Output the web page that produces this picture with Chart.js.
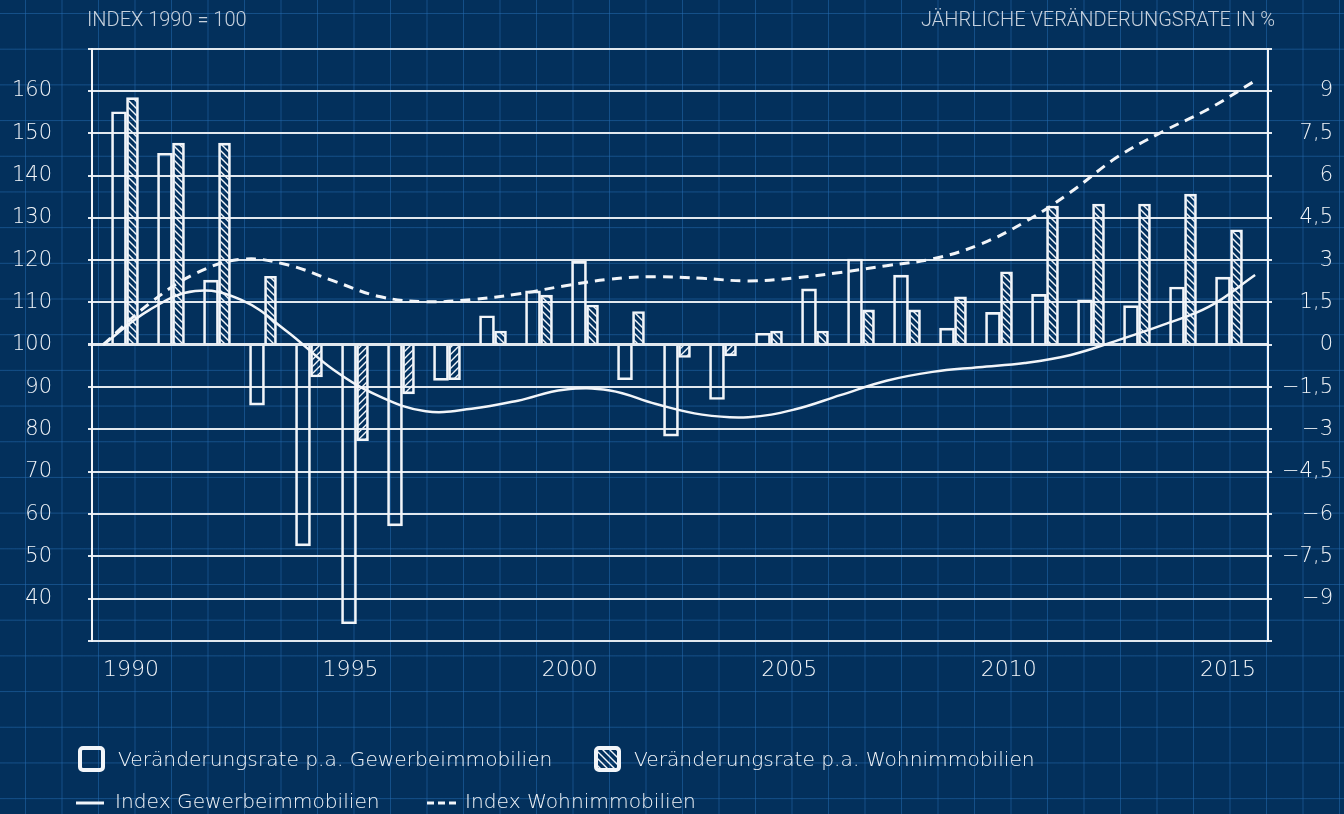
<!DOCTYPE html>
<html><head><meta charset="utf-8">
<script src="https://cdn.jsdelivr.net/npm/chart.js@4.4.1/dist/chart.umd.min.js"></script>
<style>
html,body{margin:0;padding:0;width:1344px;height:814px;overflow:hidden;}
body{background-color:#03305c;
background-image:linear-gradient(to right, rgba(38,110,180,0.5) 1px, transparent 1px),linear-gradient(to bottom, rgba(38,110,180,0.5) 1px, transparent 1px);
background-size:36.5px 35.7px;background-position:25px 13px;}
canvas{display:block;}
</style></head><body>
<canvas id="c" width="1344" height="814"></canvas>
<script>
// ---- data ----
const lineYears = [1990,1991,1992,1993,1994,1995,1996,1997,1998,1999,2000,2001,2002,2003,2004,2005,2006,2007,2008,2009,2010,2011,2012,2013,2014,2015];
const gewerbeIndex = [100,108.2,112.7,110.6,103.1,94.1,87.8,84.3,84.9,86.8,89.4,89.2,86.0,83.5,82.9,84.7,88.1,91.5,93.6,94.7,95.7,97.6,101.0,104.7,109.0,116.5];
const wohnIndex = [100,109.7,116.8,120.2,118.9,115.1,111.4,110.2,110.7,112.0,113.9,115.5,116.1,115.7,115.1,115.8,117.1,118.7,120.3,123.6,129.0,136.1,144.3,150.4,155.8,162.4];
const barYears = [1991,1992,1993,1994,1995,1996,1997,1998,1999,2000,2001,2002,2003,2004,2005,2006,2007,2008,2009,2010,2011,2012,2013,2014,2015];
const gewerbeRate = [8.26,6.79,2.29,-2.14,-7.13,-9.89,-6.42,-1.26,1.03,1.91,2.96,-1.24,-3.24,-1.94,0.41,1.98,3.04,2.47,0.59,1.15,1.79,1.59,1.39,2.05,2.40];
const wohnRate = [8.76,7.15,7.15,2.43,-1.14,-3.4,-1.74,-1.24,0.49,1.76,1.41,1.18,-0.45,-0.39,0.49,0.49,1.24,1.24,1.70,2.59,4.92,4.99,4.99,5.34,4.08];
const leftTickLabels = [40,50,60,70,80,90,100,110,120,130,140,150,160];
const rightTickLabels = [-9,-7.5,-6,-4.5,-3,-1.5,0,1.5,3,4.5,6,7.5,9];
const xTickLabels = [1990,1995,2000,2005,2010,2015];
const titleLeft = 'INDEX 1990 = 100';
const titleRight = 'JÄHRLICHE VERÄNDERUNGSRATE IN %';
const seriesNames = ['Veränderungsrate p.a. Gewerbeimmobilien','Veränderungsrate p.a. Wohnimmobilien','Index Gewerbeimmobilien','Index Wohnimmobilien'];

// ---- style ----
const WHITE = '#f2f5f9';
const GRID = '#e1e8ef';
const HAND = '"DejaVu Sans", sans-serif';
const canvas = document.getElementById('c');
const mainCtx = canvas.getContext('2d');

function hatch(dir){
  const s = 7, c = document.createElement('canvas');
  c.width = s; c.height = s;
  const g = c.getContext('2d');
  g.strokeStyle = WHITE; g.lineWidth = 1.4; g.beginPath();
  if (dir > 0) {
    g.moveTo(-1,-1); g.lineTo(s+1,s+1);
    g.moveTo(-1,s-1); g.lineTo(1,s+1);
    g.moveTo(s-1,-1); g.lineTo(s+1,1);
  } else {
    g.moveTo(-1,s+1); g.lineTo(s+1,-1);
    g.moveTo(-1,1); g.lineTo(1,-1);
    g.moveTo(s-1,s+1); g.lineTo(s+1,s-1);
  }
  g.stroke();
  return mainCtx.createPattern(c,'repeat');
}
const hatchPos = hatch(1), hatchNeg = hatch(-1);

function fmtRate(v){
  const r = Math.round(v*10)/10;
  if (!rightTickLabels.some(t => Math.abs(t-r) < 1e-6)) return '';
  return (r < 0 ? '\u2212' : '') + String(Math.abs(r)).replace('.',',');
}

const overlay = {
  id:'overlay',
  afterDraw(chart){
    const ctx = chart.ctx;
    ctx.save();
    // titles
    ctx.fillStyle = '#c7d1dd';
    ctx.font = '300 20px Roboto, sans-serif';
    ctx.textBaseline = 'middle';
    ctx.textAlign = 'left';
    ctx.fillText(titleLeft, 87, 21);
    ctx.textAlign = 'right';
    ctx.fillText(titleRight, 1275, 21);
    // legend
    ctx.textAlign = 'left';
    ctx.fillStyle = WHITE;
    ctx.strokeStyle = WHITE;
    ctx.font = '200 20.2px ' + HAND;
    // box 1
    ctx.lineWidth = 4;
    ctx.beginPath(); ctx.roundRect(80, 748, 23, 22, 3); ctx.stroke();
    ctx.fillText(seriesNames[0], 118, 761);
    // box 2
    ctx.fillStyle = hatchPos;
    ctx.fillRect(596, 748, 23, 22);
    ctx.beginPath(); ctx.roundRect(596, 748, 23, 22, 3); ctx.stroke();
    ctx.fillStyle = WHITE;
    ctx.fillText(seriesNames[1], 634, 761);
    // line icons
    ctx.lineWidth = 3;
    ctx.beginPath(); ctx.moveTo(76, 803); ctx.lineTo(104, 803); ctx.stroke();
    ctx.fillText(seriesNames[2], 115, 803);
    ctx.setLineDash([7,4]);
    ctx.beginPath(); ctx.moveTo(427, 803); ctx.lineTo(458, 803); ctx.stroke();
    ctx.setLineDash([]);
    ctx.fillText(seriesNames[3], 465, 803);
    ctx.restore();
  }
};

new Chart(canvas, {
  type: 'bar',
  data: {
    datasets: [
      {
        type:'line', label: seriesNames[2],
        data: lineYears.map((x,i)=>({x, y: gewerbeIndex[i]})),
        xAxisID:'xl', yAxisID:'y',
        borderColor: WHITE, borderWidth: 2.5, pointRadius: 0, tension: 0.4, fill:false, order: 0
      },
      {
        type:'line', label: seriesNames[3],
        data: lineYears.map((x,i)=>({x, y: wohnIndex[i]})),
        xAxisID:'xl', yAxisID:'y',
        borderColor: WHITE, borderWidth: 3, borderDash:[10,7], pointRadius: 0, tension: 0.4, fill:false, order: 0
      },
      {
        type:'bar', label: seriesNames[0],
        data: barYears.map((x,i)=>({x, y: gewerbeRate[i]})),
        xAxisID:'xb', yAxisID:'y1',
        backgroundColor:'rgba(0,0,0,0)', borderColor: WHITE, borderWidth: 2,
        barThickness: 15, order: 1
      },
      {
        type:'bar', label: seriesNames[1],
        data: barYears.map((x,i)=>({x, y: wohnRate[i]})),
        xAxisID:'xb', yAxisID:'y1',
        backgroundColor: c => (c.parsed && c.parsed.y < 0) ? hatchNeg : hatchPos,
        borderColor: WHITE, borderWidth: 2,
        barThickness: 12, order: 1
      }
    ]
  },
  options: {
    responsive:false, animation:false,
    layout:{padding:{top:43,right:11,bottom:0,left:0}},
    plugins:{legend:{display:false}, tooltip:{enabled:false}},
    scales:{
      x:{type:'linear', position:'bottom', min:1989.11, max:2015.91, offset:false,
        grid:{display:false, offset:false}, border:{display:false},
        ticks:{stepSize:5, includeBounds:false, autoSkip:false, maxRotation:0, padding:8,
          color:WHITE, font:{family:HAND, size:22, weight:'200'},
          callback: v => xTickLabels.includes(v) ? String(v) : ''},
        afterFit: s => { s.height = 173; }
      },
      xb:{type:'linear', display:false, offset:false, grid:{offset:false}, min:1990.25, max:2015.815,
        ticks:{stepSize:1, includeBounds:false, maxTicksLimit:100}},
      xl:{type:'linear', display:false, offset:false, grid:{offset:false}, min:1989.76, max:2015.28,
        ticks:{stepSize:1, includeBounds:false, maxTicksLimit:100}},
      y:{type:'linear', position:'left', min:30, max:170,
        ticks:{stepSize:10, padding:36, color:WHITE, font:{family:HAND, size:21, weight:'200'},
          callback: v => leftTickLabels.includes(v) ? String(v) : ''},
        grid:{color:GRID, lineWidth: c => (c.tick && c.tick.value === 100) ? 3 : 2, tickLength:4},
        border:{color:WHITE, width:2},
        afterFit: s => { s.width = 92; }
      },
      y1:{type:'linear', position:'right', min:-10.5, max:10.5,
        ticks:{stepSize:1.5, crossAlign:'far', color:WHITE, font:{family:HAND, size:21, weight:'200'},
          callback: v => fmtRate(v)},
        grid:{drawOnChartArea:false, color:GRID, lineWidth:2, tickLength:4},
        border:{color:WHITE, width:2},
        afterFit: s => { s.width = 65; }
      }
    }
  },
  plugins:[overlay]
});
</script>
</body></html>
